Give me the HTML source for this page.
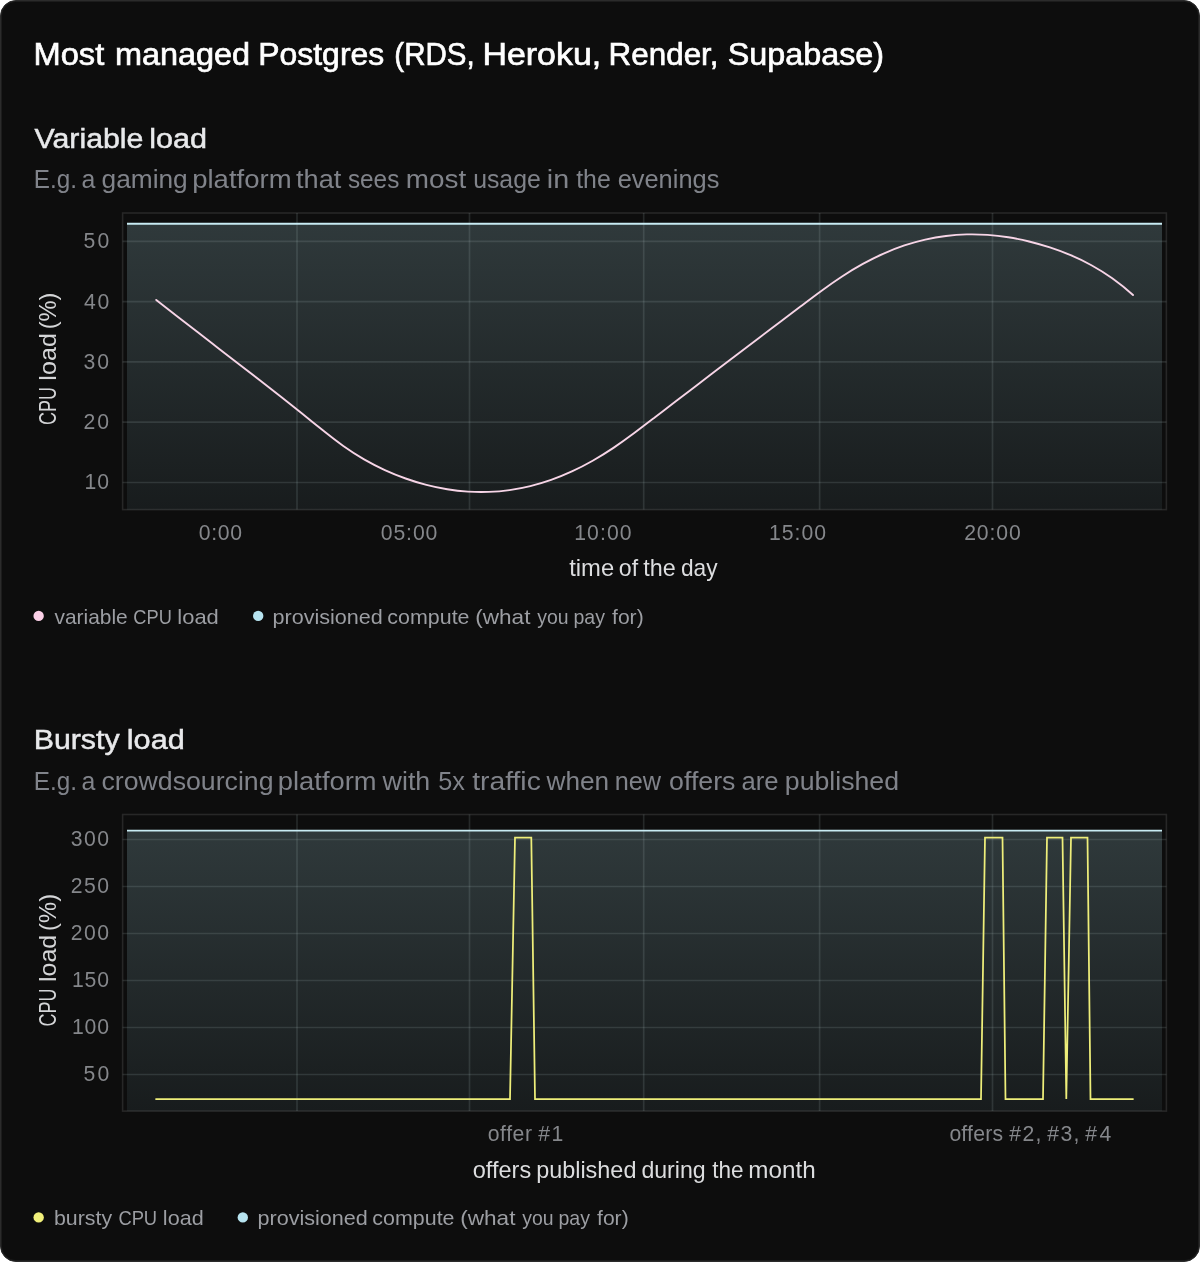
<!DOCTYPE html>
<html lang="en">
<head>
<meta charset="utf-8">
<title>Most managed Postgres</title>
<style>
html,body{margin:0;padding:0;background:#fff;}
body{width:1200px;height:1262px;position:relative;overflow:hidden;font-family:"Liberation Sans",sans-serif;}
.card{position:absolute;left:0;top:0;width:1200px;height:1262px;box-sizing:border-box;background:#0d0d0d;border:1px solid #2b2b2b;border-radius:16px;box-shadow:inset 0 0 0 1px #1c1c1c;}
svg{position:absolute;left:0;top:0;transform:translateZ(0);will-change:transform;}
text{font-family:"Liberation Sans",sans-serif;}
.grid{stroke:#b4c8ca;stroke-opacity:.15;stroke-width:1.7;}
.frame{fill:none;stroke:#ffffff;stroke-opacity:.11;stroke-width:1.6;}
.tick{font-size:21.2px;fill:#85878b;}
.ytitle{font-size:24px;fill:#d4d5d7;}
.title{font-size:31px;fill:#ffffff;stroke:#ffffff;stroke-width:.65px;}
.h2{font-size:28.2px;fill:#e8e9eb;stroke:#e8e9eb;stroke-width:.5px;}
.sub{font-size:26px;fill:#80838a;}
.xtitle{font-size:24px;fill:#dcdddf;}
.leg{font-size:21px;fill:#9c9ea3;}
</style>
</head>
<body>
<div class="card"></div>
<svg width="1200" height="1262" viewBox="0 0 1200 1262">
<defs><linearGradient id="g1" x1="0" y1="0" x2="0" y2="1"><stop offset="0" stop-color="#2f393b"/><stop offset="1" stop-color="#181c1d"/></linearGradient></defs>
<rect x="127" y="223.7" width="1035" height="285.9" fill="url(#g1)"/>
<line x1="297" y1="213" x2="297" y2="509.6" class="grid"/>
<line x1="469.5" y1="213" x2="469.5" y2="509.6" class="grid"/>
<line x1="643.7" y1="213" x2="643.7" y2="509.6" class="grid"/>
<line x1="819.6" y1="213" x2="819.6" y2="509.6" class="grid"/>
<line x1="992.5" y1="213" x2="992.5" y2="509.6" class="grid"/>
<line x1="122.6" y1="241.3" x2="1166.4" y2="241.3" class="grid"/>
<line x1="122.6" y1="301.6" x2="1166.4" y2="301.6" class="grid"/>
<line x1="122.6" y1="361.9" x2="1166.4" y2="361.9" class="grid"/>
<line x1="122.6" y1="422.2" x2="1166.4" y2="422.2" class="grid"/>
<line x1="122.6" y1="482.5" x2="1166.4" y2="482.5" class="grid"/>
<rect x="122.6" y="213" width="1043.8" height="296.6" class="frame"/>
<line x1="127" y1="223.7" x2="1162" y2="223.7" stroke="#c8ebf3" stroke-width="1.9"/>
<path d="M156.25,299.89 C163.18,305.37 170.10,310.80 177.03,316.21 C183.96,321.61 190.89,326.98 197.81,332.34 C204.74,337.70 211.67,343.04 218.60,348.39 C225.52,353.73 232.45,359.07 239.38,364.42 C246.30,369.78 253.23,375.14 260.16,380.54 C267.09,385.93 274.01,391.35 280.94,396.81 C287.87,402.27 294.80,407.78 301.72,413.33 C308.65,418.89 315.58,424.55 322.51,430.11 C329.43,435.66 336.36,441.08 343.29,446.02 C350.21,450.95 357.14,455.39 364.07,459.37 C371.00,463.36 377.92,466.90 384.85,470.06 C391.78,473.23 398.71,476.02 405.63,478.48 C412.56,480.95 419.49,483.09 426.41,484.88 C433.34,486.68 440.27,488.15 447.20,489.27 C454.12,490.40 461.05,491.18 467.98,491.62 C474.91,492.06 481.83,492.16 488.76,491.91 C495.69,491.65 502.62,491.05 509.54,490.08 C516.47,489.12 523.40,487.80 530.32,486.10 C537.25,484.41 544.18,482.35 551.11,479.90 C558.03,477.46 564.96,474.64 571.89,471.43 C578.82,468.23 585.74,464.66 592.67,460.72 C599.60,456.79 606.52,452.50 613.45,447.86 C620.38,443.23 627.31,438.24 634.23,433.08 C641.16,427.92 648.09,422.58 655.02,417.26 C661.94,411.94 668.87,406.62 675.80,401.32 C682.73,396.01 689.65,390.72 696.58,385.43 C703.51,380.14 710.43,374.86 717.36,369.58 C724.29,364.31 731.22,359.04 738.14,353.77 C745.07,348.50 752.00,343.24 758.93,337.99 C765.85,332.73 772.78,327.47 779.71,322.22 C786.63,316.97 793.56,311.72 800.49,306.47 C807.42,301.22 814.34,295.97 821.27,290.91 C828.20,285.84 835.13,280.96 842.05,276.44 C848.98,271.92 855.91,267.74 862.84,263.92 C869.76,260.10 876.69,256.63 883.62,253.55 C890.54,250.46 897.47,247.75 904.40,245.42 C911.33,243.10 918.25,241.15 925.18,239.58 C932.11,238.00 939.04,236.79 945.96,235.94 C952.89,235.08 959.82,234.57 966.74,234.40 C973.67,234.23 980.60,234.39 987.53,234.88 C994.45,235.36 1001.38,236.17 1008.31,237.28 C1015.24,238.39 1022.16,239.80 1029.09,241.50 C1036.02,243.21 1042.95,245.20 1049.87,247.47 C1056.80,249.74 1063.73,252.28 1070.65,255.21 C1077.58,258.14 1084.51,261.46 1091.44,265.27 C1098.36,269.08 1105.29,273.39 1112.22,278.31 C1119.15,283.24 1126.07,288.77 1133.00,295.02" fill="none" stroke="#f7d5e7" stroke-width="1.9" stroke-linecap="round" stroke-linejoin="round"/>
<circle cx="38.65" cy="615.9" r="5.2" fill="#fbd0e7"/>
<circle cx="258.2" cy="615.9" r="5.2" fill="#b7e4f0"/>
<defs><linearGradient id="g2" x1="0" y1="0" x2="0" y2="1"><stop offset="0" stop-color="#2f393b"/><stop offset="1" stop-color="#181c1d"/></linearGradient></defs>
<rect x="127" y="830.6" width="1035" height="280.5" fill="url(#g2)"/>
<line x1="297" y1="814.5" x2="297" y2="1111.1" class="grid"/>
<line x1="469.5" y1="814.5" x2="469.5" y2="1111.1" class="grid"/>
<line x1="643.7" y1="814.5" x2="643.7" y2="1111.1" class="grid"/>
<line x1="819.6" y1="814.5" x2="819.6" y2="1111.1" class="grid"/>
<line x1="992.5" y1="814.5" x2="992.5" y2="1111.1" class="grid"/>
<line x1="122.6" y1="839.5" x2="1166.4" y2="839.5" class="grid"/>
<line x1="122.6" y1="886.5" x2="1166.4" y2="886.5" class="grid"/>
<line x1="122.6" y1="933.5" x2="1166.4" y2="933.5" class="grid"/>
<line x1="122.6" y1="980.5" x2="1166.4" y2="980.5" class="grid"/>
<line x1="122.6" y1="1027.5" x2="1166.4" y2="1027.5" class="grid"/>
<line x1="122.6" y1="1074.5" x2="1166.4" y2="1074.5" class="grid"/>
<rect x="122.6" y="814.5" width="1043.8" height="296.6" class="frame"/>
<line x1="127" y1="830.6" x2="1162" y2="830.6" stroke="#c8ebf3" stroke-width="1.9"/>
<path d="M156,1099 L510,1099 L515,837.5 L531.3,837.5 L535,1099 L981,1099 L985,837.5 L1002.5,837.5 L1005.5,1099 L1043,1099 L1047,837.5 L1062.5,837.5 L1066.3,1099 L1071,837.5 L1087.5,837.5 L1090.5,1099 L1133,1099" fill="none" stroke="#eeee7a" stroke-width="1.75" stroke-linejoin="miter" stroke-linecap="round"/>
<circle cx="38.65" cy="1217.4" r="5.2" fill="#f1f07a"/>
<circle cx="242.8" cy="1217.4" r="5.2" fill="#b7e4f0"/>
<text y="65.3" class="title"><tspan x="33.54" textLength="70.72" lengthAdjust="spacingAndGlyphs">Most</tspan> <tspan x="114.91" textLength="135.20" lengthAdjust="spacingAndGlyphs">managed</tspan> <tspan x="258.22" textLength="126.03" lengthAdjust="spacingAndGlyphs">Postgres</tspan> <tspan x="394.30" textLength="80.37" lengthAdjust="spacingAndGlyphs">(RDS,</tspan> <tspan x="482.43" textLength="118.74" lengthAdjust="spacingAndGlyphs">Heroku,</tspan> <tspan x="608.61" textLength="109.95" lengthAdjust="spacingAndGlyphs">Render,</tspan> <tspan x="727.71" textLength="156.35" lengthAdjust="spacingAndGlyphs">Supabase)</tspan></text>
<text y="147.5" class="h2"><tspan x="34.55" textLength="108.90" lengthAdjust="spacingAndGlyphs">Variable</tspan> <tspan x="149.22" textLength="57.90" lengthAdjust="spacingAndGlyphs">load</tspan></text>
<text y="187.5" class="sub"><tspan x="33.72" textLength="43.17" lengthAdjust="spacingAndGlyphs">E.g.</tspan> <tspan x="81.55" textLength="13.85" lengthAdjust="spacingAndGlyphs">a</tspan> <tspan x="101.53" textLength="86.23" lengthAdjust="spacingAndGlyphs">gaming</tspan> <tspan x="192.17" textLength="99.42" lengthAdjust="spacingAndGlyphs">platform</tspan> <tspan x="296.05" textLength="45.31" lengthAdjust="spacingAndGlyphs">that</tspan> <tspan x="347.92" textLength="51.39" lengthAdjust="spacingAndGlyphs">sees</tspan> <tspan x="405.89" textLength="60.43" lengthAdjust="spacingAndGlyphs">most</tspan> <tspan x="473.15" textLength="67.67" lengthAdjust="spacingAndGlyphs">usage</tspan> <tspan x="546.89" textLength="22.36" lengthAdjust="spacingAndGlyphs">in</tspan> <tspan x="576.20" textLength="34.56" lengthAdjust="spacingAndGlyphs">the</tspan> <tspan x="617.68" textLength="101.67" lengthAdjust="spacingAndGlyphs">evenings</tspan></text>
<text y="576.4" class="xtitle"><tspan x="569.19" textLength="44.97" lengthAdjust="spacingAndGlyphs">time</tspan> <tspan x="618.80" textLength="19.29" lengthAdjust="spacingAndGlyphs">of</tspan> <tspan x="643.27" textLength="32.47" lengthAdjust="spacingAndGlyphs">the</tspan> <tspan x="680.93" textLength="36.63" lengthAdjust="spacingAndGlyphs">day</tspan></text>
<text y="623.8" class="leg"><tspan x="54.48" textLength="73.26" lengthAdjust="spacingAndGlyphs">variable</tspan> <tspan x="133.35" textLength="38.51" lengthAdjust="spacingAndGlyphs">CPU</tspan> <tspan x="177.30" textLength="41.51" lengthAdjust="spacingAndGlyphs">load</tspan></text>
<text y="623.8" class="leg"><tspan x="272.46" textLength="110.42" lengthAdjust="spacingAndGlyphs">provisioned</tspan> <tspan x="387.39" textLength="82.15" lengthAdjust="spacingAndGlyphs">compute</tspan> <tspan x="475.22" textLength="55.22" lengthAdjust="spacingAndGlyphs">(what</tspan> <tspan x="537.34" textLength="31.34" lengthAdjust="spacingAndGlyphs">you</tspan> <tspan x="573.42" textLength="31.52" lengthAdjust="spacingAndGlyphs">pay</tspan> <tspan x="612.03" textLength="31.66" lengthAdjust="spacingAndGlyphs">for)</tspan></text>
<text y="748.6" class="h2"><tspan x="33.69" textLength="85.89" lengthAdjust="spacingAndGlyphs">Bursty</tspan> <tspan x="126.80" textLength="57.99" lengthAdjust="spacingAndGlyphs">load</tspan></text>
<text y="789.5" class="sub"><tspan x="33.72" textLength="43.17" lengthAdjust="spacingAndGlyphs">E.g.</tspan> <tspan x="81.55" textLength="13.85" lengthAdjust="spacingAndGlyphs">a</tspan> <tspan x="101.50" textLength="172.01" lengthAdjust="spacingAndGlyphs">crowdsourcing</tspan> <tspan x="277.87" textLength="98.69" lengthAdjust="spacingAndGlyphs">platform</tspan> <tspan x="382.62" textLength="47.63" lengthAdjust="spacingAndGlyphs">with</tspan> <tspan x="438.32" textLength="26.66" lengthAdjust="spacingAndGlyphs">5x</tspan> <tspan x="472.17" textLength="68.62" lengthAdjust="spacingAndGlyphs">traffic</tspan> <tspan x="546.47" textLength="62.59" lengthAdjust="spacingAndGlyphs">when</tspan> <tspan x="614.75" textLength="46.38" lengthAdjust="spacingAndGlyphs">new</tspan> <tspan x="669.12" textLength="66.38" lengthAdjust="spacingAndGlyphs">offers</tspan> <tspan x="741.60" textLength="37.01" lengthAdjust="spacingAndGlyphs">are</tspan> <tspan x="784.83" textLength="114.20" lengthAdjust="spacingAndGlyphs">published</tspan></text>
<text y="1178" class="xtitle"><tspan x="472.76" textLength="58.39" lengthAdjust="spacingAndGlyphs">offers</tspan> <tspan x="536.13" textLength="100.28" lengthAdjust="spacingAndGlyphs">published</tspan> <tspan x="641.38" textLength="64.33" lengthAdjust="spacingAndGlyphs">during</tspan> <tspan x="712.23" textLength="31.35" lengthAdjust="spacingAndGlyphs">the</tspan> <tspan x="748.25" textLength="67.37" lengthAdjust="spacingAndGlyphs">month</tspan></text>
<text y="1225.3" class="leg"><tspan x="53.93" textLength="58.13" lengthAdjust="spacingAndGlyphs">bursty</tspan> <tspan x="118.38" textLength="38.75" lengthAdjust="spacingAndGlyphs">CPU</tspan> <tspan x="162.88" textLength="40.82" lengthAdjust="spacingAndGlyphs">load</tspan></text>
<text y="1225.3" class="leg"><tspan x="257.46" textLength="110.42" lengthAdjust="spacingAndGlyphs">provisioned</tspan> <tspan x="372.39" textLength="82.15" lengthAdjust="spacingAndGlyphs">compute</tspan> <tspan x="460.22" textLength="55.22" lengthAdjust="spacingAndGlyphs">(what</tspan> <tspan x="522.34" textLength="31.34" lengthAdjust="spacingAndGlyphs">you</tspan> <tspan x="558.42" textLength="31.52" lengthAdjust="spacingAndGlyphs">pay</tspan> <tspan x="597.03" textLength="31.65" lengthAdjust="spacingAndGlyphs">for)</tspan></text>
<text y="539.7" class="tick"><tspan x="198.79" textLength="43.28" lengthAdjust="spacing">0:00</tspan></text>
<text y="539.7" class="tick"><tspan x="380.68" textLength="56.70" lengthAdjust="spacing">05:00</tspan></text>
<text y="539.7" class="tick"><tspan x="574.28" textLength="57.26" lengthAdjust="spacing">10:00</tspan></text>
<text y="539.7" class="tick"><tspan x="768.96" textLength="57.11" lengthAdjust="spacing">15:00</tspan></text>
<text y="539.7" class="tick"><tspan x="964.18" textLength="56.50" lengthAdjust="spacing">20:00</tspan></text>
<text y="1141.3" class="tick"><tspan x="487.71" textLength="44.28" lengthAdjust="spacing">offer</tspan> <tspan x="538.18" textLength="25.17" lengthAdjust="spacing">#1</tspan></text>
<text y="1141.3" class="tick"><tspan x="949.38" textLength="53.59" lengthAdjust="spacing">offers</tspan> <tspan x="1009.14" textLength="32.37" lengthAdjust="spacing">#2,</tspan> <tspan x="1047.14" textLength="32.37" lengthAdjust="spacing">#3,</tspan> <tspan x="1085.14" textLength="26.25" lengthAdjust="spacing">#4</tspan></text>
<text y="0" transform="translate(55.5,430) rotate(-90)" class="ytitle"><tspan x="4.93" textLength="37.97" lengthAdjust="spacingAndGlyphs">CPU</tspan> <tspan x="49.38" textLength="47.49" lengthAdjust="spacingAndGlyphs">load</tspan> <tspan x="100.70" textLength="36.78" lengthAdjust="spacingAndGlyphs">(%)</tspan></text>
<text y="0" transform="translate(55.5,1031.5) rotate(-90)" class="ytitle"><tspan x="4.92" textLength="38.01" lengthAdjust="spacingAndGlyphs">CPU</tspan> <tspan x="49.42" textLength="47.33" lengthAdjust="spacingAndGlyphs">load</tspan> <tspan x="100.60" textLength="36.97" lengthAdjust="spacingAndGlyphs">(%)</tspan></text>
<text y="248.2" class="tick"><tspan x="83.41" textLength="25.78" lengthAdjust="spacing">50</tspan></text>
<text y="308.5" class="tick"><tspan x="84.05" textLength="25.15" lengthAdjust="spacing">40</tspan></text>
<text y="368.8" class="tick"><tspan x="83.57" textLength="25.49" lengthAdjust="spacing">30</tspan></text>
<text y="429.1" class="tick"><tspan x="83.52" textLength="25.51" lengthAdjust="spacing">20</tspan></text>
<text y="489.4" class="tick"><tspan x="84.46" textLength="24.67" lengthAdjust="spacing">10</tspan></text>
<text y="846.4" class="tick"><tspan x="70.84" textLength="38.33" lengthAdjust="spacing">300</tspan></text>
<text y="893.4" class="tick"><tspan x="70.76" textLength="38.33" lengthAdjust="spacing">250</tspan></text>
<text y="940.4" class="tick"><tspan x="70.76" textLength="38.33" lengthAdjust="spacing">200</tspan></text>
<text y="987.4" class="tick"><tspan x="71.89" textLength="37.17" lengthAdjust="spacing">150</tspan></text>
<text y="1034.4" class="tick"><tspan x="71.89" textLength="37.17" lengthAdjust="spacing">100</tspan></text>
<text y="1081.4" class="tick"><tspan x="83.41" textLength="25.78" lengthAdjust="spacing">50</tspan></text>
</svg>
</body>
</html>
